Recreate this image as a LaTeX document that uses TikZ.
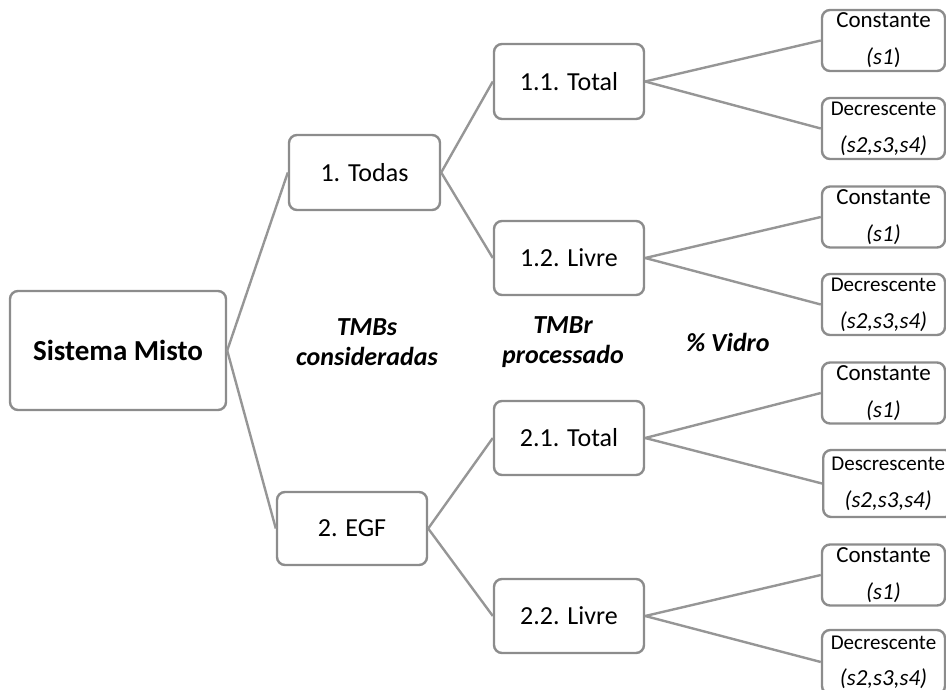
\documentclass[tikz,border=0pt]{standalone}
\usepackage{fontspec}
\setmainfont{Carlito}
\begin{document}
\begin{tikzpicture}[x=1pt,y=-1pt,
  box/.style={draw=boxgray,line width=2.4pt,rounded corners=8pt,fill=white,
    inner sep=0pt,align=center,font=\fontsize{26}{30}\selectfont},
  leaf/.style={box,minimum width=123pt,minimum height=61pt,
    font=\fontsize{23}{37}\selectfont},
  link/.style={draw=linegray,line width=2.4pt},
  caption/.style={align=center,font=\fontsize{26}{30}\selectfont\bfseries\itshape}]
\definecolor{boxgray}{RGB}{140,140,140}
\definecolor{linegray}{RGB}{150,150,150}
\useasboundingbox (0,0) rectangle (946,690);
\clip (0,0) rectangle (946,690);

% root and first level
\node[box,minimum width=216pt,minimum height=119pt,font=\fontsize{29}{33}\selectfont\bfseries] (root) at (118,350.5) {Sistema Misto};
\node[box,minimum width=151pt,minimum height=75pt] (todas) at (364.5,172.5) {1. Todas};
\node[box,minimum width=150pt,minimum height=73pt] (egf) at (352,528.5) {2. EGF};

% second level
\node[box,minimum width=150pt,minimum height=75pt] (t11) at (569,81.5) {1.1. Total};
\node[box,minimum width=150pt,minimum height=74pt] (l12) at (569,258) {1.2. Livre};
\node[box,minimum width=150pt,minimum height=74pt] (t21) at (569,438) {2.1. Total};
\node[box,minimum width=150pt,minimum height=74pt] (l22) at (569,616) {2.2. Livre};

% leaves
\node[leaf] (c1) at (883.5,40.5) {Constante\\\textit{(s1})};
\node[leaf,font=\fontsize{21}{37}\selectfont] (d1) at (883.5,128.5) {Decrescente\\\fontsize{23}{37}\selectfont\textit{(s2,s3,s4)}};
\node[leaf] (c2) at (883.5,217) {Constante\\\textit{(s1)}};
\node[leaf,font=\fontsize{21}{37}\selectfont] (d2) at (883.5,304.5) {Decrescente\\\fontsize{23}{37}\selectfont\textit{(s2,s3,s4)}};
\node[leaf] (c3) at (883.5,393) {Constante\\\textit{(s1)}};
\node[leaf,minimum height=67pt,minimum width=130pt,anchor=west,font=\fontsize{21}{37}\selectfont] (d3) at (822,483.5) {Descrescente\\\fontsize{23}{37}\selectfont\textit{(s2,s3,s4)}};
\node[leaf] (c4) at (883.5,575) {Constante\\\textit{(s1)}};
\node[leaf,minimum height=64pt,font=\fontsize{21}{36}\selectfont,text depth=2pt] (d4) at (883.5,662) {Decrescente\\\fontsize{23}{36}\selectfont\textit{(s2,s3,s4)}};

% level captions
\node[caption] (capa) at (367,342) {TMBs\\consideradas};
\node[caption] (capb) at (563,342) {TMBr\\processado};
\node[caption] (capc) at (728,342) {\% Vidro};

% connectors
\path[link] (root.east) -- (todas.west);
\path[link] (root.east) -- (egf.west);
\path[link] (todas.east) -- (t11.west);
\path[link] (todas.east) -- (l12.west);
\path[link] (egf.east) -- (t21.west);
\path[link] (egf.east) -- (l22.west);
\path[link] (t11.east) -- (c1.west);
\path[link] (t11.east) -- (d1.west);
\path[link] (l12.east) -- (c2.west);
\path[link] (l12.east) -- (d2.west);
\path[link] (t21.east) -- (c3.west);
\path[link] (t21.east) -- (d3.west);
\path[link] (l22.east) -- (c4.west);
\path[link] (l22.east) -- (d4.west);
\end{tikzpicture}
\end{document}
